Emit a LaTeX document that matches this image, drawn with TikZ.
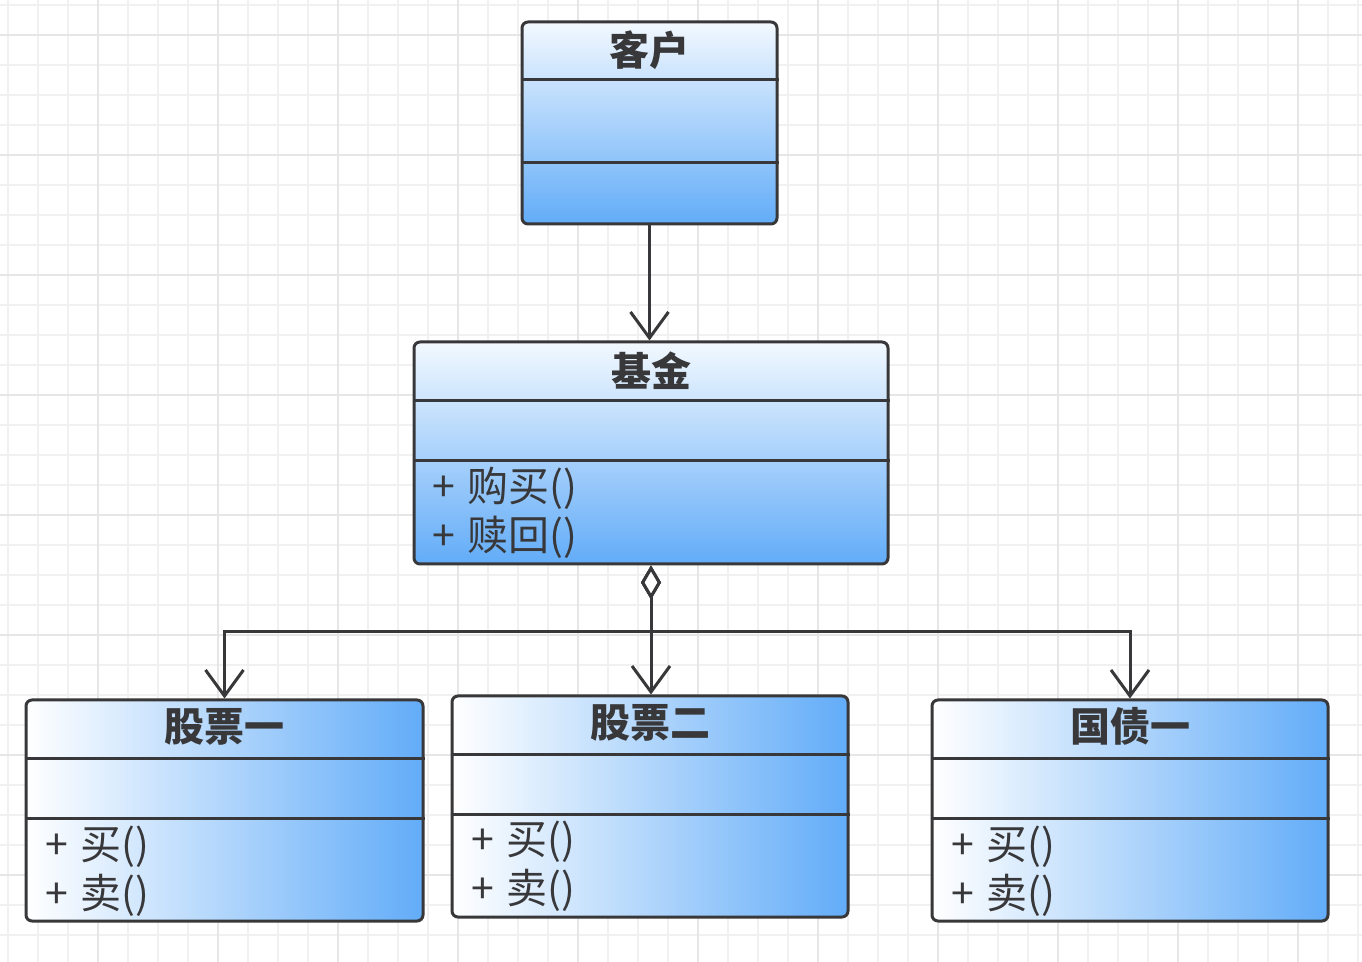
\documentclass[tikz,border=0pt]{standalone}
\usepackage{fontspec}
\setmainfont{Noto Sans CJK SC}
\usepackage{tikz}
\usetikzlibrary{arrows.meta,positioning}
\definecolor{umlblue}{RGB}{98,172,248}
\definecolor{umlline}{RGB}{56,56,58}
\definecolor{gridminor}{RGB}{241,241,241}
\definecolor{gridmajor}{RGB}{230,230,230}

\begin{document}
\begin{tikzpicture}[x=0.5pt, y=-0.5pt,
    classbox/.style={draw=umlline, line width=1.5pt, rounded corners=3pt, inner sep=0pt},
    vbox/.style={classbox, top color=white!92!umlblue, bottom color=umlblue},
    hbox/.style={classbox, left color=white, right color=umlblue},
    classtitle/.style={font=\bfseries\fontsize{20}{24}\selectfont, text=umlline, inner sep=0pt},
    method/.style={font=\fontsize{20.5}{24}\selectfont, text=umlline, inner sep=0pt, anchor=west},
    sep/.style={draw=umlline, line width=1.5pt},
    assoc/.style={draw=umlline, line width=1.5pt, -{Straight Barb[length=13pt, width=19pt]}},
    aggr/.style={assoc, {Diamond[fill=white, length=17pt, width=10pt]}-{Straight Barb[length=13pt, width=19pt]}}]

    % Background grid
    \fill[white] (0,0) rectangle (1362,962);
    \useasboundingbox (0,0) rectangle (1362,962);
    \foreach \x in {8,38,...,1358} \draw[gridminor, line width=0.8pt] (\x,0) -- (\x,962);
    \foreach \y in {5,35,...,960} \draw[gridminor, line width=0.8pt] (0,\y) -- (1362,\y);
    \foreach \x in {98,218,...,1358} \draw[gridmajor, line width=0.8pt] (\x,0) -- (\x,962);
    \foreach \y in {35,155,...,960} \draw[gridmajor, line width=0.8pt] (0,\y) -- (1362,\y);

    % Client
    \node[vbox, minimum width=127.5pt, minimum height=101pt] (kehu) at (649.5,123) {};
    \node[classtitle] (kehu-t) at ([yshift=-15pt]kehu.north) {客户};
    \draw[sep] ([yshift=-29.5pt]kehu.north west) -- ([yshift=-29.5pt]kehu.north east);
    \draw[sep] ([yshift=-71pt]kehu.north west) -- ([yshift=-71pt]kehu.north east);

    % Fund
    \node[vbox, minimum width=237pt, minimum height=111pt] (jijin) at (651,453) {};
    \node[classtitle] (jijin-t) at ([yshift=-15pt]jijin.north) {基金};
    \draw[sep] ([yshift=-30pt]jijin.north west) -- ([yshift=-30pt]jijin.north east);
    \draw[sep] ([yshift=-60pt]jijin.north west) -- ([yshift=-60pt]jijin.north east);
    \node[method] (jijin-m1) at ([xshift=10pt, yshift=-74pt]jijin.north west) {+\hspace{0.3em}购买()};
    \node[method] (jijin-m2) at ([xshift=10pt, yshift=-98.5pt]jijin.north west) {+\hspace{0.3em}赎回()};

    % Stock one
    \node[hbox, minimum width=198.5pt, minimum height=110.5pt] (gp1) at (224.5,810.5) {};
    \node[classtitle] (gp1-t) at ([yshift=-14pt]gp1.north) {股票一};
    \draw[sep] ([yshift=-30pt]gp1.north west) -- ([yshift=-30pt]gp1.north east);
    \draw[sep] ([yshift=-60pt]gp1.north west) -- ([yshift=-60pt]gp1.north east);
    \node[method] (gp1-m1) at ([xshift=10.5pt, yshift=-74pt]gp1.north west) {+\hspace{0.3em}买()};
    \node[method] (gp1-m2) at ([xshift=10.5pt, yshift=-98.5pt]gp1.north west) {+\hspace{0.3em}卖()};

    % Stock two
    \node[hbox, minimum width=198pt, minimum height=110.5pt] (gp2) at (650,806.5) {};
    \node[classtitle] (gp2-t) at ([yshift=-14pt]gp2.north) {股票二};
    \draw[sep] ([yshift=-30pt]gp2.north west) -- ([yshift=-30pt]gp2.north east);
    \draw[sep] ([yshift=-60pt]gp2.north west) -- ([yshift=-60pt]gp2.north east);
    \node[method] (gp2-m1) at ([xshift=10.5pt, yshift=-73.5pt]gp2.north west) {+\hspace{0.3em}买()};
    \node[method] (gp2-m2) at ([xshift=10.5pt, yshift=-98pt]gp2.north west) {+\hspace{0.3em}卖()};

    % Bond one
    \node[hbox, minimum width=198pt, minimum height=110.5pt] (gz1) at (1130,810.5) {};
    \node[classtitle] (gz1-t) at ([yshift=-14pt]gz1.north) {国债一};
    \draw[sep] ([yshift=-30pt]gz1.north west) -- ([yshift=-30pt]gz1.north east);
    \draw[sep] ([yshift=-60pt]gz1.north west) -- ([yshift=-60pt]gz1.north east);
    \node[method] (gz1-m1) at ([xshift=10.5pt, yshift=-74pt]gz1.north west) {+\hspace{0.3em}买()};
    \node[method] (gz1-m2) at ([xshift=10.5pt, yshift=-98.5pt]gz1.north west) {+\hspace{0.3em}卖()};

    % Client uses fund
    \draw[assoc] (kehu.south) -- (kehu.south |- jijin.north);

    % Fund aggregates stocks and bond
    \draw[aggr] (jijin.south) -- ++(0,66) -| (gp1.north);
    \draw[aggr] (jijin.south) -- ++(0,66) -| (gz1.north);
    \draw[aggr] (jijin.south) -- (jijin.south |- gp2.north);
\end{tikzpicture}
\end{document}
